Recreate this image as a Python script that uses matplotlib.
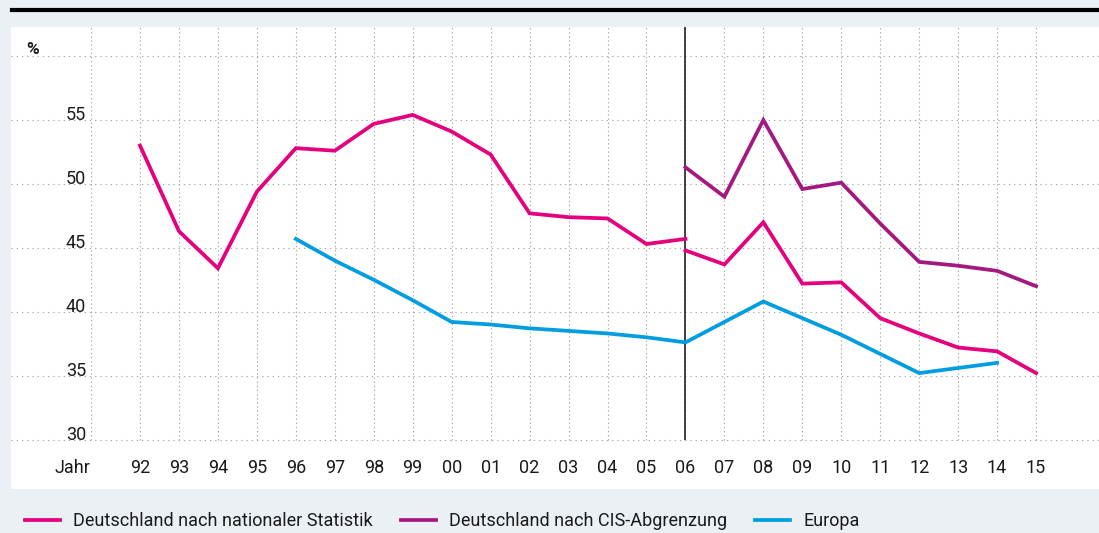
import numpy as np
import matplotlib.pyplot as plt
from matplotlib.lines import Line2D

plt.rcParams['font.family'] = ['Roboto', 'DejaVu Sans']

# years 1992..2015 as index 0..23
year_labels = ['92', '93', '94', '95', '96', '97', '98', '99', '00', '01', '02', '03',
               '04', '05', '06', '07', '08', '09', '10', '11', '12', '13', '14', '15']

# Deutschland nach nationaler Statistik (break at 2006)
national_old_years = list(range(0, 15))
national_old = [53.0, 46.3, 43.4, 49.4, 52.8, 52.6, 54.7, 55.4, 54.1, 52.3, 47.7, 47.4,
                47.3, 45.3, 45.7]
national_new_years = list(range(14, 24))
national_new = [44.8, 43.7, 47.0, 42.2, 42.3, 39.5, 38.3, 37.2, 36.9, 35.2]

# Deutschland nach CIS-Abgrenzung
cis_years = list(range(14, 24))
cis = [51.3, 49.0, 55.0, 49.6, 50.1, 46.9, 43.9, 43.6, 43.2, 42.0]

# Europa
europe_years = list(range(4, 23))
europe = [45.7, 44.0, 42.5, 40.9, 39.2, 39.0, 38.7, 38.5, 38.3, 38.0, 37.6, 39.2,
          40.8, 39.5, 38.2, 36.7, 35.2, 35.6, 36.0]

y_ticks = [30, 35, 40, 45, 50, 55]

pink = '#e5007d'
purple = '#a3197f'
blue = '#009ee0'
bg = '#ebf0f5'
grid_c = '#a8a8a8'

W, H = 1099, 533
fig = plt.figure(figsize=(W / 100, H / 100), dpi=100, facecolor=bg)
ax = fig.add_axes([11 / W, (H - 489) / H, (W - 11) / W, (489 - 27) / H])
ax.set_facecolor('white')
for s in ax.spines.values():
    s.set_visible(False)

px_per_year = 38.96
x_left = (11 - 140) / px_per_year
x_right = (W - 140) / px_per_year
ax.set_xlim(x_left, x_right)
ax.set_ylim(26.13, 62.28)

# grid
ax.hlines(y_ticks + [60], x_left, x_right, colors=grid_c, lw=0.8,
          linestyles=(0, (1.2, 3.5)), zorder=1)
ax.vlines(range(len(year_labels)), 30, 62.28, colors=grid_c, lw=0.8,
          linestyles=(0, (1.2, 2.5)), zorder=1)
ax.vlines((91 - 140) / px_per_year, 30, 62.28, colors=grid_c, lw=0.8,
          linestyles=(0, (1.2, 2.5)), zorder=1)

# break marker 2006
ax.vlines(14, 30, 62.28, colors='#222222', lw=1.2, zorder=2)

lw = 2.7
ax.plot(national_old_years, national_old, color=pink, lw=lw, zorder=3,
        solid_joinstyle='miter', label='Deutschland nach nationaler Statistik')
ax.plot(national_new_years, national_new, color=pink, lw=lw, zorder=3,
        solid_joinstyle='miter')
ax.plot(cis_years, cis, color=purple, lw=lw, zorder=3, solid_joinstyle='miter',
        label='Deutschland nach CIS-Abgrenzung')
ax.plot(europe_years, europe, color=blue, lw=lw, zorder=3, solid_joinstyle='miter',
        label='Europa')

# ticks
ax.set_xticks([(72 - 140) / px_per_year] + list(range(len(year_labels))))
ax.set_xticklabels(['Jahr'] + year_labels)
ax.set_yticks(y_ticks)
ax.set_yticklabels([str(v) for v in y_ticks])
for lab in ax.get_yticklabels():
    lab.set_verticalalignment('baseline')
ax.tick_params(axis='x', length=0, pad=-21.5, labelsize=13, colors='#1a1a1a')
ax.tick_params(axis='y', length=0, pad=-54, labelsize=13, colors='#1a1a1a')

fig.text(26 / W, 1 - 50 / H, '%', fontsize=12.5, fontweight='bold', va='center',
         color='#1a1a1a')

# top rule
fig.add_artist(Line2D([12 / W, 1], [1 - 10 / H, 1 - 10 / H], color='black', lw=3,
                      transform=fig.transFigure))

leg = fig.legend(loc='center left', bbox_to_anchor=(25 / W, 1 - 521 / H), ncol=3,
                 frameon=False, fontsize=13, handlelength=1.95, handletextpad=0.72,
                 columnspacing=1.55, borderaxespad=0, borderpad=0)
for t in leg.get_texts():
    t.set_color('#1a1a1a')

fig.savefig('out.png', dpi=100, facecolor=bg)
